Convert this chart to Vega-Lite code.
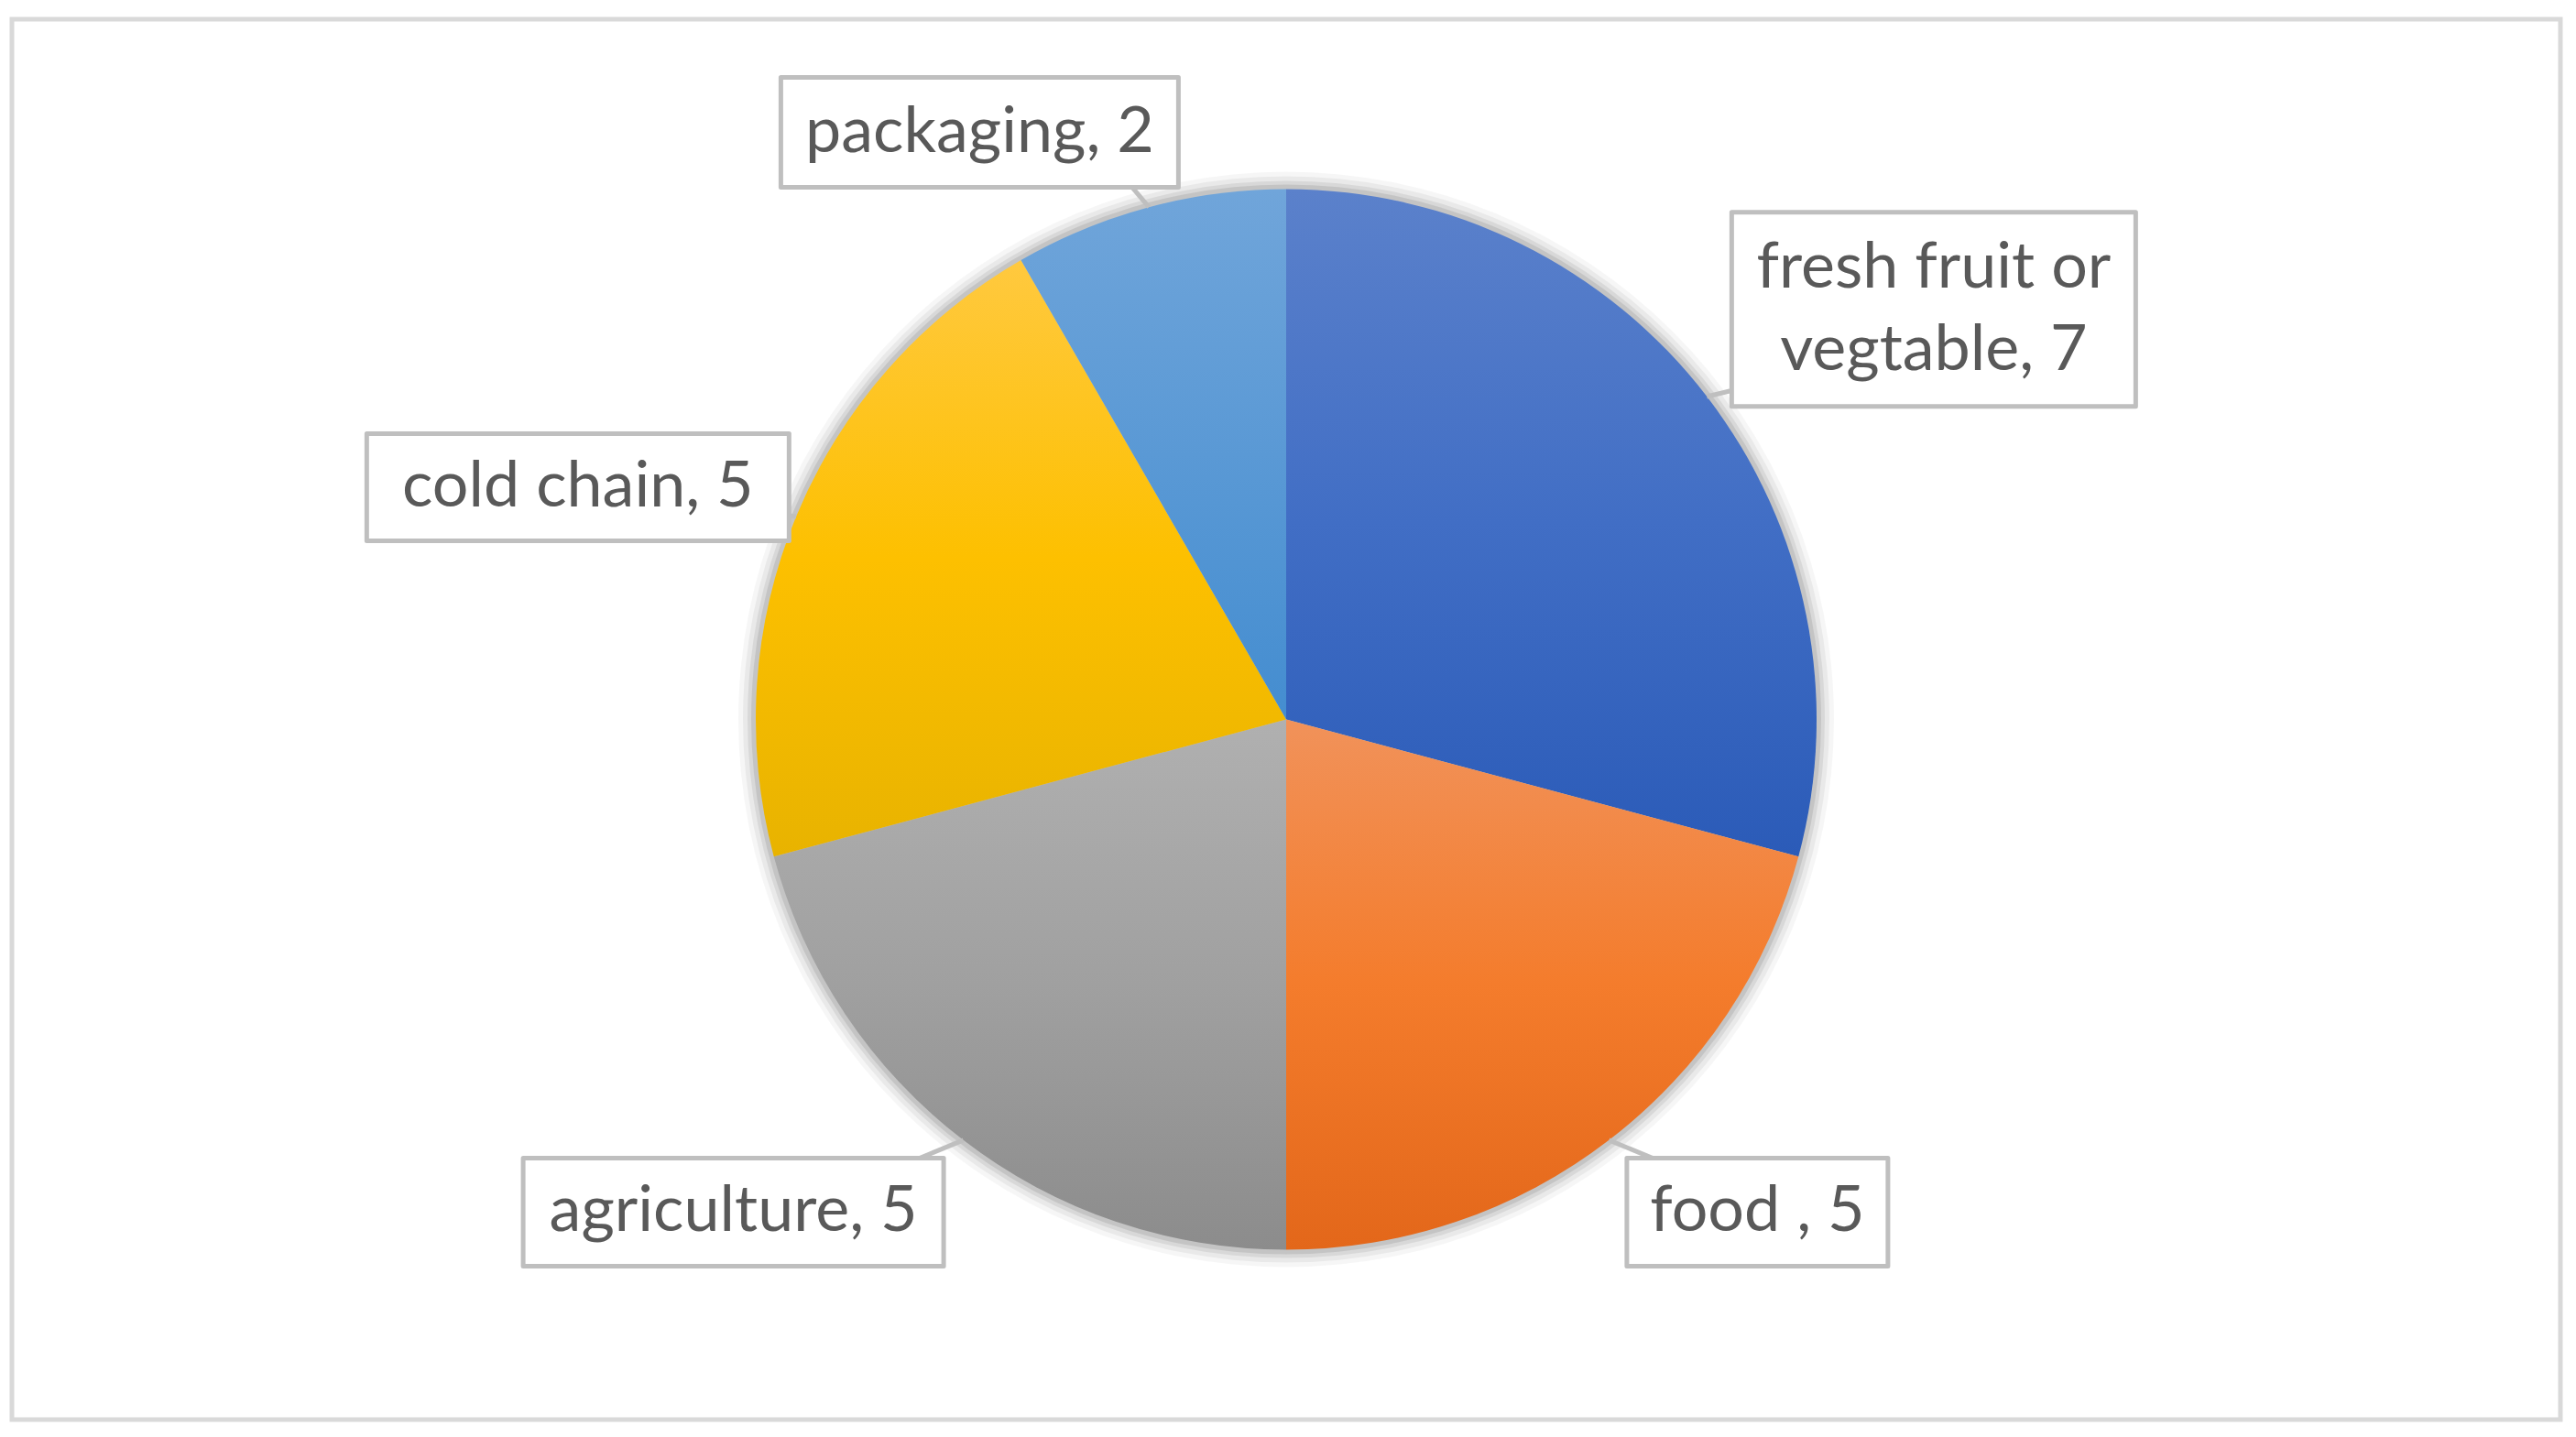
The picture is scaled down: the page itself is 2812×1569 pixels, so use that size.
{
  "$schema": "https://vega.github.io/schema/vega-lite/v6.json",
  "width": 2782,
  "height": 1529,
  "padding": {"left": 13, "top": 21, "right": 17, "bottom": 19},
  "autosize": {"type": "none"},
  "background": "#ffffff",
  "config": {"view": {"stroke": "#d9d9d9", "strokeWidth": 5}},
  "data": {"values": [
    {"category": "fresh fruit or vegtable", "value": 7, "label": "fresh fruit or\nvegtable, 7"},
    {"category": "food", "value": 5, "label": "food , 5"},
    {"category": "agriculture", "value": 5, "label": "agriculture, 5"},
    {"category": "cold chain", "value": 5, "label": "cold chain, 5"},
    {"category": "packaging", "value": 2, "label": "packaging, 2"}
  ]},
  "transform": [
    {"joinaggregate": [{"op": "sum", "field": "value", "as": "total"}]},
    {"stack": "value", "groupby": [], "as": ["v0", "v1"]},
    {"calculate": "PI * (datum.v0 + datum.v1) / datum.total", "as": "mid"},
    {"calculate": "sin(datum.mid)", "as": "lx"},
    {"calculate": "cos(datum.mid)", "as": "ly"},
    {"calculate": "0.6498 * sin(datum.mid)", "as": "ex"},
    {"calculate": "0.854 * cos(datum.mid)", "as": "ey"}
  ],
  "layer": [
    {
      "transform": [{"aggregate": [{"op": "sum", "field": "value", "as": "tot"}]}],
      "mark": {"type": "arc", "outerRadius": 598, "fill": "#000000", "opacity": 0.035},
      "encoding": {"theta": {"field": "tot", "type": "quantitative"}}
    },
    {
      "transform": [{"aggregate": [{"op": "sum", "field": "value", "as": "tot"}]}],
      "mark": {"type": "arc", "outerRadius": 593, "fill": "#000000", "opacity": 0.05},
      "encoding": {"theta": {"field": "tot", "type": "quantitative"}}
    },
    {
      "transform": [{"aggregate": [{"op": "sum", "field": "value", "as": "tot"}]}],
      "mark": {"type": "arc", "outerRadius": 588, "fill": "#000000", "opacity": 0.07},
      "encoding": {"theta": {"field": "tot", "type": "quantitative"}}
    },
    {
      "transform": [{"aggregate": [{"op": "sum", "field": "value", "as": "tot"}]}],
      "mark": {"type": "arc", "outerRadius": 584, "fill": "#000000", "opacity": 0.09},
      "encoding": {"theta": {"field": "tot", "type": "quantitative"}}
    },
    {
      "mark": {"type": "arc", "outerRadius": 579, "stroke": null},
      "encoding": {
        "theta": {"field": "v0", "type": "quantitative"},
        "theta2": {"field": "v1"},
        "fill": {
          "condition": [
            {"test": "datum.category === 'fresh fruit or vegtable'", "value": {"gradient": "linear", "x1": 0, "y1": 0, "x2": 0, "y2": 1, "stops": [{"offset": 0, "color": "#5b81cb"}, {"offset": 0.5, "color": "#416ec5"}, {"offset": 1, "color": "#2b5bb8"}]}},
            {"test": "datum.category === 'food'", "value": {"gradient": "linear", "x1": 0, "y1": 0, "x2": 0, "y2": 1, "stops": [{"offset": 0, "color": "#f1925a"}, {"offset": 0.5, "color": "#f47c2c"}, {"offset": 1, "color": "#e3671a"}]}},
            {"test": "datum.category === 'agriculture'", "value": {"gradient": "linear", "x1": 0, "y1": 0, "x2": 0, "y2": 1, "stops": [{"offset": 0, "color": "#b0b0b0"}, {"offset": 0.5, "color": "#a0a0a0"}, {"offset": 1, "color": "#8c8c8c"}]}},
            {"test": "datum.category === 'cold chain'", "value": {"gradient": "linear", "x1": 0, "y1": 0, "x2": 0, "y2": 1, "stops": [{"offset": 0, "color": "#ffc93f"}, {"offset": 0.5, "color": "#fdc000"}, {"offset": 1, "color": "#e8b300"}]}}
          ],
          "value": {"gradient": "linear", "x1": 0, "y1": 0, "x2": 0, "y2": 1, "stops": [{"offset": 0, "color": "#70a5da"}, {"offset": 0.5, "color": "#5a99d5"}, {"offset": 1, "color": "#448dd0"}]}
        }
      }
    },
    {
      "mark": {"type": "rule", "stroke": "#bfbfbf", "strokeWidth": 5},
      "encoding": {
        "x": {"field": "ex", "type": "quantitative", "scale": {"domain": [-1.5612, 1.5612], "nice": false, "zero": false}, "axis": null},
        "y": {"field": "ey", "type": "quantitative", "scale": {"domain": [-1.1276, 1.1276], "nice": false, "zero": false}, "axis": null},
        "x2": {"field": "lx"},
        "y2": {"field": "ly"}
      }
    },
    {
      "transform": [{"filter": "datum.category === 'packaging'"}],
      "layer": [
        {"mark": {"type": "point", "filled": true, "fill": "#ffffff", "fillOpacity": 1, "stroke": "#bfbfbf", "strokeWidth": 5, "strokeOpacity": 1, "opacity": 1, "size": 10000, "strokeJoin": "round", "shape": "M-4.34,-1.2H4.34V1.2H-4.34Z", "xOffset": -104, "yOffset": 14},
         "encoding": {"x": {"field": "lx", "type": "quantitative"}, "y": {"field": "ly", "type": "quantitative"}}},
        {"mark": {"type": "text", "font": "Lato", "fontSize": 70, "color": "#595959", "align": "center", "baseline": "middle", "xOffset": -104, "yOffset": 14},
         "encoding": {"x": {"field": "lx", "type": "quantitative"}, "y": {"field": "ly", "type": "quantitative"}, "text": {"field": "label", "type": "nominal"}}}
      ]
    },
    {
      "transform": [{"filter": "datum.category === 'fresh fruit or vegtable'"}],
      "layer": [
        {"mark": {"type": "point", "filled": true, "fill": "#ffffff", "fillOpacity": 1, "stroke": "#bfbfbf", "strokeWidth": 5, "strokeOpacity": 1, "opacity": 1, "size": 10000, "strokeJoin": "round", "shape": "M-4.41,-2.12H4.41V2.12H-4.41Z", "xOffset": 0, "yOffset": -35},
         "encoding": {"x": {"field": "lx", "type": "quantitative"}, "y": {"field": "ly", "type": "quantitative"}}},
        {"mark": {"type": "text", "font": "Lato", "fontSize": 70, "color": "#595959", "align": "center", "baseline": "middle", "lineBreak": "\n", "lineHeight": 90, "xOffset": 0, "yOffset": -80},
         "encoding": {"x": {"field": "lx", "type": "quantitative"}, "y": {"field": "ly", "type": "quantitative"}, "text": {"field": "label", "type": "nominal"}}}
      ]
    },
    {
      "transform": [{"filter": "datum.category === 'cold chain'"}],
      "layer": [
        {"mark": {"type": "point", "filled": true, "fill": "#ffffff", "fillOpacity": 1, "stroke": "#bfbfbf", "strokeWidth": 5, "strokeOpacity": 1, "opacity": 1, "size": 10000, "strokeJoin": "round", "shape": "M-4.61,-1.17H4.61V1.17H-4.61Z", "xOffset": 50, "yOffset": 6},
         "encoding": {"x": {"field": "lx", "type": "quantitative"}, "y": {"field": "ly", "type": "quantitative"}}},
        {"mark": {"type": "text", "font": "Lato", "fontSize": 70, "color": "#595959", "align": "center", "baseline": "middle", "xOffset": 50, "yOffset": 6},
         "encoding": {"x": {"field": "lx", "type": "quantitative"}, "y": {"field": "ly", "type": "quantitative"}, "text": {"field": "label", "type": "nominal"}}}
      ]
    },
    {
      "transform": [{"filter": "datum.category === 'agriculture'"}],
      "layer": [
        {"mark": {"type": "point", "filled": true, "fill": "#ffffff", "fillOpacity": 1, "stroke": "#bfbfbf", "strokeWidth": 5, "strokeOpacity": 1, "opacity": 1, "size": 10000, "strokeJoin": "round", "shape": "M-4.59,-1.18H4.59V1.18H-4.59Z", "xOffset": -61, "yOffset": 0},
         "encoding": {"x": {"field": "lx", "type": "quantitative"}, "y": {"field": "ly", "type": "quantitative"}}},
        {"mark": {"type": "text", "font": "Lato", "fontSize": 70, "color": "#595959", "align": "center", "baseline": "middle", "xOffset": -61, "yOffset": 0},
         "encoding": {"x": {"field": "lx", "type": "quantitative"}, "y": {"field": "ly", "type": "quantitative"}, "text": {"field": "label", "type": "nominal"}}}
      ]
    },
    {
      "transform": [{"filter": "datum.category === 'food'"}],
      "layer": [
        {"mark": {"type": "point", "filled": true, "fill": "#ffffff", "fillOpacity": 1, "stroke": "#bfbfbf", "strokeWidth": 5, "strokeOpacity": 1, "opacity": 1, "size": 10000, "strokeJoin": "round", "shape": "M-2.85,-1.18H2.85V1.18H-2.85Z", "xOffset": -28, "yOffset": 0},
         "encoding": {"x": {"field": "lx", "type": "quantitative"}, "y": {"field": "ly", "type": "quantitative"}}},
        {"mark": {"type": "text", "font": "Lato", "fontSize": 70, "color": "#595959", "align": "center", "baseline": "middle", "xOffset": -28, "yOffset": 0},
         "encoding": {"x": {"field": "lx", "type": "quantitative"}, "y": {"field": "ly", "type": "quantitative"}, "text": {"field": "label", "type": "nominal"}}}
      ]
    }
  ]
}
